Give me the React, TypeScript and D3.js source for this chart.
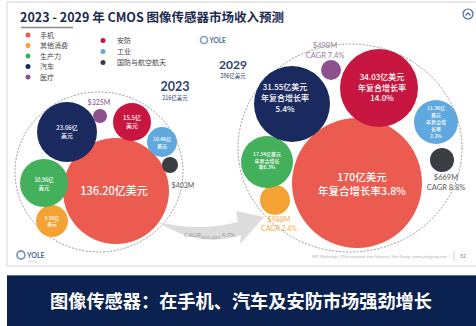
import React from "react";
import * as d3 from "d3";

// ---------- data ----------
const segments = ["手机", "其他消费", "生产力", "汽车", "医疗", "安防", "工业", "国防与航空航天"];
const segColors = ["#ec5b4f", "#f5a235", "#43b05c", "#1b2a5e", "#8e4f8f", "#c7163f", "#5fa9e0", "#3a3d42"];
const years = ["2023", "2029"];
const totals = ["216亿美元", "286亿美元"];
const values2023 = [136.2, 5.98, 10.96, 23.06, 3.25, 15.5, 10.46, 4.03]; // 亿美元
const values2029 = [170, 9.88, 17.34, 31.55, 4.98, 34.03, 11.36, 6.69]; // 亿美元
const cagr = [3.8, 2.4, 6.3, 5.4, 7.4, 14.0, 2.2, 8.8]; // %
const totalCagr = 4.7;

// ---------- layout (positions / sizes, not data) ----------
// per segment: [cx, cy, r]
const layout2023 = [
  [116, 191, 53], [52, 221, 16], [44, 183, 24], [67, 132, 30],
  [100, 116, 7], [132, 122, 19], [162, 142, 15], [170, 165, 8],
];
const layout2029 = [
  [357, 183, 65], [275, 200, 15], [267, 162, 26], [292, 104, 38],
  [331, 70, 10], [379, 88, 39], [436, 122, 22], [442, 160, 12],
];

const CJK = "'Noto Sans CJK SC', 'Noto Sans', sans-serif";
const LAT = "Lato, 'Open Sans', sans-serif";

type Lbl = { lines: string[]; x: number; y: number; size: number; color: string; gap: number; font?: string };

function Label({ l }: { l: Lbl }) {
  return (
    <text x={l.x} y={l.y} textAnchor="middle" fontSize={l.size} fill={l.color} fontFamily={l.font || CJK} fontWeight={500}>
      {l.lines.map((s, i) => (
        <tspan key={i} x={l.x} dy={i === 0 ? 0 : l.gap}>{s}</tspan>
      ))}
    </text>
  );
}

export default function App() {
  const W = 476, H = 326;
  const money = d3.format(".2f");

  const v = values2023, w = values2029;
  const lbl2023: Lbl[] = [
    { lines: [money(v[0]) + "亿美元"], x: 114, y: 195, size: 11, color: "#fff", gap: 0 },
    { lines: [money(v[1]) + "亿", "美元"], x: 52, y: 220, size: 4.8, color: "#fff", gap: 6 },
    { lines: [money(v[2]) + "亿", "美元"], x: 44, y: 182, size: 5.5, color: "#fff", gap: 7.5 },
    { lines: [money(v[3]) + "亿", "美元"], x: 67, y: 130, size: 6, color: "#fff", gap: 8 },
    { lines: ["$" + Math.round(v[4] * 100) + "M"], x: 99, y: 105, size: 7, color: "#8e5a95", gap: 0, font: LAT },
    { lines: [v[5] + "亿", "美元"], x: 132, y: 120, size: 6, color: "#fff", gap: 8 },
    { lines: [money(v[6]) + "亿", "美元"], x: 162, y: 141, size: 5, color: "#fff", gap: 6.5 },
    { lines: ["$" + Math.round(v[7] * 100) + "M"], x: 183, y: 188, size: 7, color: "#666", gap: 0, font: LAT },
  ];
  const lbl2029: Lbl[] = [
    { lines: [w[0] + "亿美元", "年复合增长率" + cagr[0] + "%"], x: 362, y: 181, size: 10.5, color: "#fff", gap: 13.5 },
    { lines: ["$" + Math.round(w[1] * 100) + "M", "CAGR " + cagr[1] + "%"], x: 279, y: 222, size: 7, color: "#f3b050", gap: 9, font: LAT },
    { lines: [money(w[2]) + "亿美元", "年复合增长", "率" + cagr[2] + "%"], x: 267, y: 156, size: 5, color: "#fff", gap: 6.5 },
    { lines: [money(w[3]) + "亿美元", "年复合增长率", cagr[3] + "%"], x: 285, y: 90, size: 8, color: "#fff", gap: 11 },
    { lines: ["$" + Math.round(w[4] * 100) + "M", "CAGR " + cagr[4] + "%"], x: 325, y: 48, size: 7.5, color: "#9a8aa0", gap: 10, font: LAT },
    { lines: [money(w[5]) + "亿美元", "年复合增长率", cagr[5].toFixed(1) + "%"], x: 382, y: 80, size: 8, color: "#fff", gap: 10.5 },
    { lines: [money(w[6]) + "亿", "美元", "年复合增", "长率", cagr[6] + "%"], x: 436, y: 110, size: 5, color: "#fff", gap: 7 },
    { lines: ["$" + Math.round(w[7] * 100) + "M", "CAGR " + cagr[7] + "%"], x: 446, y: 180, size: 7.5, color: "#666", gap: 9.5, font: LAT },
  ];

  const legendCol1 = segments.slice(0, 5);
  const legendCol2 = segments.slice(5);

  return (
    <svg width={W} height={H} style={{ position: "absolute", left: 0, top: 0, background: "#fff" }}>
      {/* slide frame */}
      <rect x={7} y={2} width={475} height={264} fill="#fff" stroke="#d4d4d4" strokeWidth={1} />

      {/* title */}
      <text x={20} y={22} fontSize={12.5} fontWeight={700} fill="#1d2b4f" fontFamily={CJK}>
        2023 - 2029 年 CMOS 图像传感器市场收入预测
      </text>
      <line x1={21} x2={73} y1={27.5} y2={27.5} stroke="#8a8a8a" strokeWidth={1.5} />

      {/* top-right icon */}
      <circle cx={468} cy={14} r={5} fill="none" stroke="#4a6a9a" strokeWidth={1.2} />
      <path d="M465.5,15.5 L468,12.8 L470.5,15.5" fill="none" stroke="#4a6a9a" strokeWidth={1.2} />

      {/* legend */}
      {legendCol1.map((s, i) => (
        <g key={s}>
          <circle cx={28} cy={35 + i * 10.5} r={2.5} fill={segColors[i]} />
          <text x={40} y={37.5 + i * 10.5} fontSize={7} fill="#444" fontFamily={CJK}>{s}</text>
        </g>
      ))}
      {legendCol2.map((s, i) => (
        <g key={s}>
          <circle cx={103} cy={40.5 + i * 11} r={2.5} fill={segColors[i + 5]} />
          <text x={117} y={43 + i * 11} fontSize={7} fill="#444" fontFamily={CJK}>{s}</text>
        </g>
      ))}

      {/* YOLE logo top */}
      <g>
        <circle cx={204} cy={40} r={3.5} fill="none" stroke="#7f9cc0" strokeWidth={1.6} />
        <text x={209.5} y={42.5} fontSize={6.5} fontWeight={700} fill="#4c6b94" fontFamily={LAT}>YOLE</text>
      </g>

      {/* year labels */}
      <text x={175} y={91} textAnchor="middle" fontSize={12.5} fontWeight={700} fill="#2c4170" fontFamily={LAT}>{years[0]}</text>
      <text x={175} y={100} textAnchor="middle" fontSize={5.5} fill="#2c4170" fontFamily={CJK}>{totals[0]}</text>
      <text x={233} y={69} textAnchor="middle" fontSize={12} fontWeight={700} fill="#2c4170" fontFamily={LAT}>{years[1]}</text>
      <text x={233} y={78} textAnchor="middle" fontSize={5.5} fill="#2c4170" fontFamily={CJK}>{totals[1]}</text>

      {/* dashed cluster outlines */}
      <ellipse cx={99} cy={172} rx={84} ry={80} fill="none" stroke="#8d8d8d" strokeWidth={0.9} strokeDasharray="2 1.5" />
      <ellipse cx={350} cy={148} rx={112} ry={104} fill="none" stroke="#8d8d8d" strokeWidth={0.9} strokeDasharray="2 1.5" />

      {/* CAGR arrow */}
      <path
        d="M158,222 Q200,249 241,235 L240,244 L264,217 L236,211 L238,222 Q200,232 158,222 Z"
        fill="#dcdcdc"
      />
      <text x={184} y={237} fontSize={6.3} fill="#9a9a9a" fontFamily={LAT}>
        CAGR<tspan fontSize={3.8} dy={1.5}>2023-2029</tspan><tspan dy={-1.5}> {totalCagr}%</tspan>
      </text>

      {/* bubbles 2023 */}
      {layout2023.map(([cx, cy, r], i) => (
        <circle key={"a" + i} cx={cx} cy={cy} r={r} fill={segColors[i]} />
      ))}
      {/* bubbles 2029 */}
      {layout2029.map(([cx, cy, r], i) => (
        <circle key={"b" + i} cx={cx} cy={cy} r={r} fill={segColors[i]} />
      ))}

      {lbl2023.map((l, i) => <Label key={"la" + i} l={l} />)}
      {lbl2029.map((l, i) => <Label key={"lb" + i} l={l} />)}

      {/* footer */}
      <g>
        <circle cx={21} cy={255} r={4} fill="none" stroke="#7f9cc0" strokeWidth={1.8} />
        <text x={27} y={257.5} fontSize={7} fontWeight={700} fill="#4c6b94" fontFamily={LAT}>YOLE</text>
        <text x={28} y={261.5} fontSize={2.5} fill="#9aa" fontFamily={LAT}>GROUP</text>
      </g>
      <text x={447} y={258} textAnchor="end" fontSize={3.8} fill="#b0b0b0" fontFamily={LAT}>
        MIC Workshop | 2Thessalonians.com/Industry | Yole Group | www.yolegroup.com
      </text>
      <line x1={454} x2={454} y1={251} y2={261} stroke="#c8c8c8" strokeWidth={0.8} />
      <text x={463} y={258} textAnchor="middle" fontSize={5} fontWeight={700} fill="#9a9a9a" fontFamily={LAT}>52</text>

      {/* bottom banner */}
      <rect x={7} y={275} width={469} height={51} fill="#0b2251" />
      <line x1={7} x2={476} y1={275.5} y2={275.5} stroke="#5a6f96" strokeWidth={1} />
      <text x={241} y={308} textAnchor="middle" fontSize={18.2} fontWeight={700} fill="#fff" fontFamily={CJK}>
        图像传感器：在手机、汽车及安防市场强劲增长
      </text>
    </svg>
  );
}
